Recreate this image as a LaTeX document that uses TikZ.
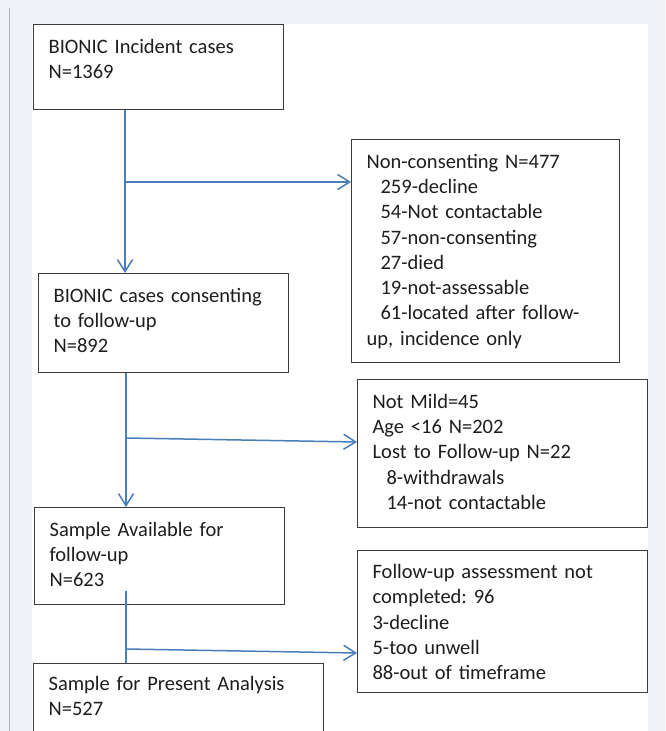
\documentclass[tikz,border=0pt]{standalone}
\usepackage{fontspec}
\setmainfont{Carlito}
\usetikzlibrary{arrows.meta}
\frenchspacing
\definecolor{pagegrey}{HTML}{F0F1F6}
\definecolor{rulegrey}{HTML}{B4B4BC}
\definecolor{boxline}{HTML}{3C3C3C}
\definecolor{textgrey}{HTML}{1E1E1E}
\definecolor{flowblue}{HTML}{4A7EBB}
\tikzset{
    flowbox/.style={draw=boxline, line width=1.2pt, anchor=north west, align=left,
        inner xsep=15pt, inner ysep=0pt, text height=28.5pt, text=textgrey,
        font=\fontsize{20.5}{25.3}\selectfont},
    flowline/.style={draw=flowblue, line width=1.5pt},
    flowarrow/.style={flowline, -{Straight Barb[length=12pt, width=15pt]}}
}
\newcommand{\subgap}{\hspace*{14pt}}
\begin{document}
\begin{tikzpicture}[x=1pt, y=1pt]
    \path[use as bounding box, fill=pagegrey] (0,0) rectangle (665,-731);
    \fill[white] (32,-24) rectangle (648,-731);
    \draw[rulegrey, line width=1pt] (9,-8) -- (9,-731);
    \begin{scope}
        \clip (0,0) rectangle (665,-731);
        \node[flowbox, text width=220pt, text depth=56.5pt] (incident) at (33,-24)
            {BIONIC Incident cases\\N=1369};
        \node[flowbox, text width=220pt, text depth=70.5pt] (consent) at (38,-273)
            {BIONIC cases consenting\\to follow-up\\N=892};
        \node[flowbox, text width=220pt, text depth=68.5pt] (available) at (34,-507)
            {Sample Available for\\follow-up\\N=623};
        \node[flowbox, text width=260pt, text height=27pt, text depth=63pt] (analysis) at (33,-663)
            {Sample for Present Analysis\\N=527};
        \node[flowbox, text width=238pt, text depth=194.5pt] (noncons) at (351,-139)
            {Non-consenting N=477\\
             \subgap259-decline\\
             \subgap54-Not contactable\\
             \subgap57-non-consenting\\
             \subgap27-died\\
             \subgap19-not-assessable\\
             \subgap61-located after follow-\\
             up, incidence only};
        \node[flowbox, text width=260pt, text depth=119.5pt] (notmild) at (357,-379)
            {Not Mild=45\\
             Age <16 N=202\\
             Lost to Follow-up N=22\\
             \subgap8-withdrawals\\
             \subgap14-not contactable};
        \node[flowbox, text width=260pt, text height=28pt, text depth=114pt] (notdone) at (357,-550)
            {Follow-up assessment not\\
             completed: 96\\
             3-decline\\
             5-too unwell\\
             88-out of timeframe};

        \coordinate (split1) at (125,-182);
        \coordinate (split2) at (126,-438);
        \coordinate (split3) at (126,-649);
        \draw[flowarrow] (split1 |- incident.south) -- (split1 |- consent.north);
        \draw[flowarrow] (split1) -- (split1 -| noncons.west);
        \draw[flowarrow] (split2 |- consent.south) -- (split2 |- available.north);
        \draw[flowarrow] (split2) -- ([yshift=-4pt]split2 -| notmild.west);
        \draw[flowline] ([yshift=14pt]split3 |- available.south) -- (split3 |- analysis.north);
        \draw[flowarrow] (split3) -- ([yshift=-4pt]split3 -| notdone.west);
    \end{scope}
\end{tikzpicture}
\end{document}
